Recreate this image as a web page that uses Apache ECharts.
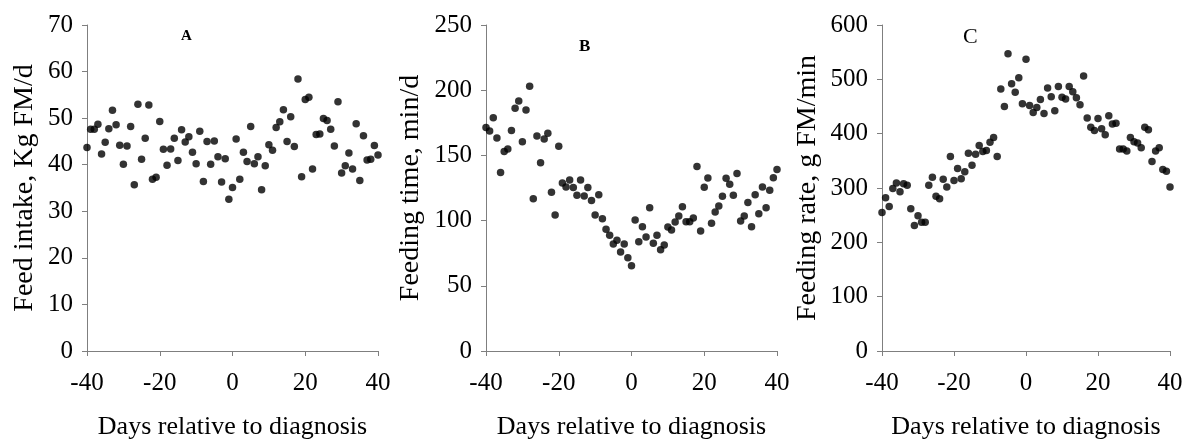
<!DOCTYPE html>
<html>
<head>
<meta charset="utf-8">
<script src="https://cdn.jsdelivr.net/npm/echarts@6/dist/echarts.min.js"></script>
<style>
  html, body { margin: 0; padding: 0; background: #fff; }
  #chart { width: 1185px; height: 441px; }
</style>
</head>
<body>
<div id="chart"></div>
<script>
const days = [-40, -39, -38, -37, -36, -35, -34, -33, -32, -31, -30, -29, -28, -27, -26, -25, -24, -23, -22, -21,
  -20, -19, -18, -17, -16, -15, -14, -13, -12, -11, -10, -9, -8, -7, -6, -5, -4, -3, -2, -1,
  0, 1, 2, 3, 4, 5, 6, 7, 8, 9, 10, 11, 12, 13, 14, 15, 16, 17, 18, 19,
  20, 21, 22, 23, 24, 25, 26, 27, 28, 29, 30, 31, 32, 33, 34, 35, 36, 37, 38, 39, 40]

// A: feed intake, kg FM/d
const feedIntake = [43.7, 47.6, 47.6, 48.7, 42.3, 44.8, 47.7, 51.7, 48.6, 44.2, 40.1, 44.0, 48.2, 35.7, 53.0, 41.2, 45.7, 52.8, 36.9, 37.3,
  49.3, 43.3, 39.9, 43.4, 45.7, 40.9, 47.5, 44.9, 46.0, 42.7, 40.2, 47.2, 36.4, 45.0, 40.1, 45.1, 41.7, 36.3, 41.3, 32.6,
  35.1, 45.5, 36.9, 42.7, 40.7, 48.2, 40.2, 41.7, 34.6, 39.8, 44.3, 43.1, 48.0, 49.2, 51.8, 45.0, 50.3, 43.9, 58.4, 37.4,
  54.0, 54.5, 39.1, 46.5, 46.6, 49.9, 49.5, 47.6, 44.0, 53.5, 38.2, 39.8, 42.5, 39.1, 48.8, 36.6, 46.2, 41.0, 41.2, 44.1, 42.1]

// B: feeding time, min/d
const feedingTime = [171.3, 168.7, 178.9, 163.3, 136.8, 152.9, 154.9, 169.0, 186.1, 191.7, 160.5, 184.8, 203.0, 116.8, 164.9, 144.4, 162.6, 166.9, 121.7, 104.3,
  157.0, 128.8, 125.8, 131.1, 125.3, 119.4, 131.1, 118.9, 125.3, 115.5, 104.3, 119.9, 101.5, 93.3, 88.7, 82.1, 84.9, 75.9, 82.1, 71.6,
  65.4, 100.5, 83.8, 95.3, 87.4, 109.9, 82.6, 88.7, 77.7, 81.3, 95.1, 92.8, 98.9, 103.5, 110.7, 99.2, 99.2, 102.0, 141.4, 92.0,
  125.5, 132.7, 97.9, 106.6, 111.2, 118.6, 132.4, 127.8, 119.4, 136.2, 99.7, 103.5, 113.8, 95.3, 119.9, 105.3, 125.8, 109.9, 123.2, 132.9, 139.1]

// C: feeding rate, g FM/min
const feedingRate = [255, 282, 266, 299, 309, 293, 308, 305, 262, 231, 249, 237, 237, 305, 320, 285, 280, 316, 302, 358,
  314, 336, 317, 330, 364, 342, 362, 378, 367, 369, 384, 393, 358, 482, 450, 547, 492, 476, 503, 455,
  537, 452, 439, 448, 463, 437, 484, 468, 442, 487, 467, 464, 487, 477, 466, 453, 506, 429, 412, 406,
  428, 409, 398, 433, 418, 419, 372, 372, 368, 393, 385, 383, 374, 412, 407, 349, 368, 374, 334, 331, 302]

const panelTitles = ['A', 'B', 'C']
const yNames = ['Feed intake, Kg FM/d', 'Feeding time, min/d', 'Feeding rate, g FM/min']
const yMax = [70, 250, 600]
const yStep = [10, 50, 100]
const xName = 'Days relative to diagnosis'

const font = 'Liberation Serif'
const axisGray = '#7f7f7f'

const grids = [
  { left: 87, right: 807, top: 25, bottom: 90 },
  { left: 486, right: 408, top: 25, bottom: 90 },
  { left: 882, right: 15, top: 25, bottom: 90 }
]
const yNameGap = [48, 61, 60]
const seriesData = [feedIntake, feedingTime, feedingRate]

const myChart = echarts.init(document.getElementById('chart'), null, { renderer: 'canvas' })

const option = {
  backgroundColor: '#fff',
  animation: false,
  title: [
    { text: panelTitles[0], left: 176, top: 24, textStyle: { fontFamily: font, fontSize: 15, fontWeight: 'bold', color: '#000' } },
    { text: panelTitles[1], left: 574, top: 33, textStyle: { fontFamily: font, fontSize: 17, fontWeight: 'bold', color: '#000' } },
    { text: panelTitles[2], left: 958, top: 21, textStyle: { fontFamily: font, fontSize: 22, fontWeight: 'normal', color: '#000' } }
  ],
  grid: grids.map(g => Object.assign({ outerBoundsMode: 'none', containLabel: false }, g)),
  xAxis: grids.map((g, i) => ({
    type: 'value',
    gridIndex: i,
    min: -40,
    max: 40,
    interval: 20,
    name: xName,
    nameLocation: 'middle',
    nameGap: 63,
    nameTextStyle: { fontFamily: font, fontSize: 26, color: '#000' },
    axisLine: { show: true, onZero: false, lineStyle: { color: axisGray, width: 1 } },
    axisTick: { show: true, length: 5, lineStyle: { color: axisGray } },
    axisLabel: { margin: 20, fontFamily: font, fontSize: 25, color: '#000' },
    splitLine: { show: false }
  })),
  yAxis: grids.map((g, i) => ({
    type: 'value',
    gridIndex: i,
    min: 0,
    max: yMax[i],
    interval: yStep[i],
    name: yNames[i],
    nameLocation: 'middle',
    nameGap: yNameGap[i],
    nameTextStyle: { fontFamily: font, fontSize: 28, color: '#000' },
    axisLine: { show: true, onZero: false, lineStyle: { color: axisGray, width: 1 } },
    axisTick: { show: true, length: 5, lineStyle: { color: axisGray } },
    axisLabel: { margin: 14, fontFamily: font, fontSize: 25, color: '#000' },
    splitLine: { show: false }
  })),
  series: seriesData.map((vals, i) => ({
    type: 'scatter',
    xAxisIndex: i,
    yAxisIndex: i,
    symbol: 'circle',
    symbolSize: 7.5,
    itemStyle: { color: '#000' },
    data: days.map((d, k) => [d, vals[k]])
  }))
}

option && myChart.setOption(option)
</script>
</body>
</html>
